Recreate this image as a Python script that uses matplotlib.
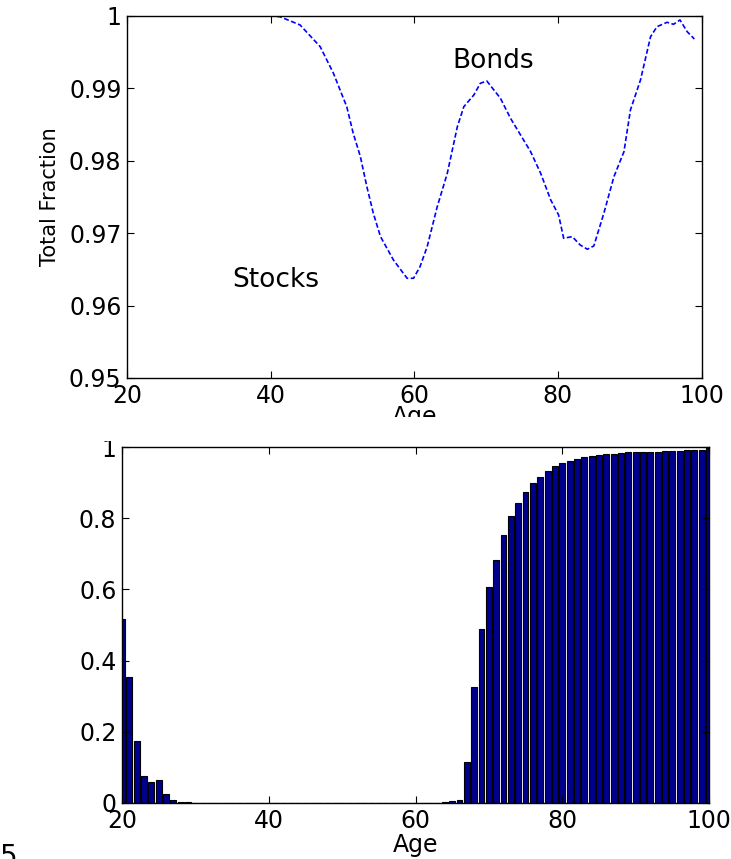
import numpy as np
import matplotlib
matplotlib.use('Agg')
import matplotlib.pyplot as plt
from matplotlib.patches import Rectangle

plt.rcParams['font.family'] = ['DejaVu Sans']

# top panel: total fraction held
line_age = [20, 30, 40, 41.3, 44.1, 46.9, 48.75, 50.6, 51.5, 52.5, 53.4, 54.3, 55.3,
            57.1, 59.0, 59.9, 60.8, 61.8, 63.2, 64.6, 66.0, 66.9, 68.3, 69.2, 70.1,
            72.0, 73.4, 74.8, 76.2, 77.6, 79.0, 80.1, 80.8, 82.0, 83.1, 84.1, 85.0,
            86.4, 87.8, 89.2, 90.1, 91.5, 92.9, 93.8, 95.2, 96.1, 97.0, 98.0, 99.0]
total_fraction = [1.0, 1.0, 1.0, 0.9999, 0.99876, 0.99576, 0.99208, 0.98747, 0.9838,
                  0.98057, 0.97642, 0.97275, 0.96952, 0.9663, 0.96377, 0.96377, 0.96537,
                  0.96814, 0.97366, 0.97827, 0.98471, 0.98747, 0.98909, 0.9907, 0.99102,
                  0.98863, 0.98587, 0.98356, 0.98126, 0.97827, 0.97459, 0.97251, 0.9693,
                  0.96952, 0.96837, 0.96778, 0.96823, 0.97275, 0.9778, 0.98126, 0.98702,
                  0.99116, 0.99714, 0.99852, 0.99913, 0.99885, 0.99945, 0.99783, 0.99682]

# bottom panel: one bar per age, 20..100
bar_age = list(range(20, 101))
bar_height = [0.516, 0.355, 0.174, 0.076, 0.059, 0.065, 0.025, 0.008, 0.003, 0.002,
              0.001, 0.001, 0.001, 0.001, 0.001, 0.001, 0.001, 0.001, 0.001, 0.001,
              0.001, 0.001, 0.001, 0.001, 0.001, 0.001, 0.001, 0.001, 0.001, 0.001,
              0.001, 0.001, 0.001, 0.001, 0.001, 0.001, 0.001, 0.001, 0.001, 0.001,
              0.001, 0.001, 0.001, 0.001, 0.002, 0.006, 0.008,
              0.116, 0.325, 0.490, 0.607, 0.684, 0.753, 0.807, 0.844, 0.874, 0.898,
              0.916, 0.933, 0.947, 0.955, 0.961, 0.965, 0.972, 0.974, 0.978, 0.981,
              0.981, 0.983, 0.985, 0.986, 0.987, 0.987, 0.987, 0.989, 0.989, 0.990,
              0.993, 0.993, 0.993, 0.998]

fig = plt.figure(figsize=(7.31, 8.59), dpi=100)

# ---- top plot
ax1 = fig.add_axes([0.1737, 0.560, 0.786, 0.4214])
ax1.plot(line_age, total_fraction, '--', color='blue', lw=1.2, dashes=(3, 1.5))
ax1.set_xlim(20, 100)
ax1.set_ylim(0.95, 1)
ax1.set_xticks([20, 40, 60, 80, 100])
ax1.set_yticks([0.95, 0.96, 0.97, 0.98, 0.99, 1])
ax1.set_yticklabels(['0.95', '0.96', '0.97', '0.98', '0.99', '1'])
ax1.text(34.6, 0.9635, 'Stocks', fontsize=19, va='center')
ax1.text(65.3, 0.9938, 'Bonds', fontsize=19, va='center')
ax1.set_xlabel('Age', fontsize=17, labelpad=-2)
ax1.set_ylabel('Total Fraction', fontsize=15, labelpad=6)

# ---- bottom plot
ax2 = fig.add_axes([0.1669, 0.0652, 0.803, 0.4144])
ax2.bar(bar_age, bar_height, width=0.8, color='#00008f', edgecolor='black', linewidth=0.8)
ax2.set_xlim(20, 100)
ax2.set_ylim(0, 1)
ax2.set_xticks([20, 40, 60, 80, 100])
ax2.set_yticks([0, 0.2, 0.4, 0.6, 0.8, 1])
ax2.set_yticklabels(['0', '0.2', '0.4', '0.6', '0.8', '1'])
ax2.set_xlabel('Age', fontsize=17, labelpad=0)

for ax in (ax1, ax2):
    ax.tick_params(direction='in', top=True, right=True, labelsize=17, length=5, pad=4)
    for s in ax.spines.values():
        s.set_linewidth(1.0)

# the top "Age" label is cut off in the original
fig.patches.append(Rectangle((0, 0.487), 1, 0.0276, transform=fig.transFigure,
                             facecolor='white', edgecolor='none', zorder=5))

# stray page number at the bottom-left
fig.text(0.0, 0.0186, '5', fontsize=20, va='top', ha='left')

plt.savefig('out.png', dpi=100)
